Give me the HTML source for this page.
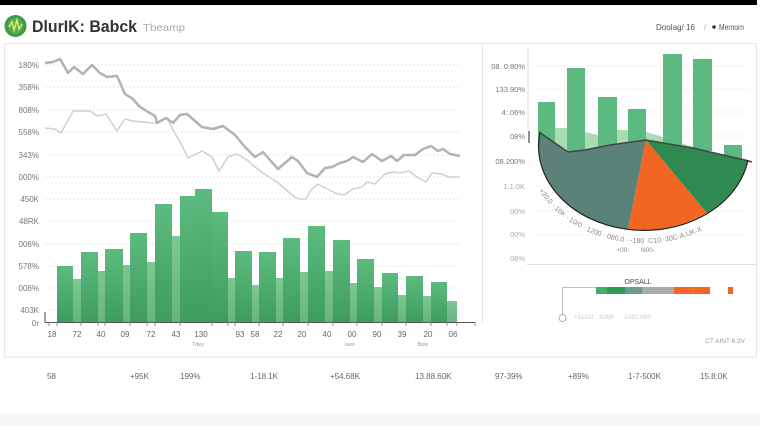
<!DOCTYPE html>
<html><head><meta charset="utf-8">
<style>
html,body{margin:0;padding:0;background:#fff;}
body{width:760px;height:426px;overflow:hidden;font-family:"Liberation Sans",sans-serif;}
svg{display:block;}
</style></head>
<body>
<svg width="760" height="426" viewBox="0 0 760 426" xmlns="http://www.w3.org/2000/svg" font-family="Liberation Sans, sans-serif">
<defs>
<linearGradient id="gd" x1="0" y1="0" x2="0" y2="1"><stop offset="0" stop-color="#5dbb80"/><stop offset="1" stop-color="#3e9c5d"/></linearGradient>
<linearGradient id="gl" x1="0" y1="0" x2="0" y2="1"><stop offset="0" stop-color="#7ec795"/><stop offset="1" stop-color="#66b57f"/></linearGradient>
<path id="arcTxt" d="M 537 187 A 118 97 0 0 0 751 187" fill="none"/>
</defs>
<rect x="0" y="0" width="760" height="426" fill="#fff"/>
<rect x="0" y="0" width="757" height="5" fill="#000"/>
<rect x="0" y="414" width="760" height="12" fill="#f6f6f6"/>

<!-- logo -->
<circle cx="15.5" cy="26" r="11" fill="#3b9a47"/>
<circle cx="15.5" cy="26" r="8" fill="#52ad4e"/>
<path d="M9 27 L12 22 L14 30 L17 20 L19 29 L22 24" fill="none" stroke="#d8e86a" stroke-width="1.6"/>
<text x="32" y="32" font-size="17" font-weight="bold" fill="#333" textLength="105" lengthAdjust="spacingAndGlyphs">DlurIK: Babck</text>
<text x="143" y="31" font-size="10.5" fill="#aaa" textLength="42" lengthAdjust="spacingAndGlyphs">Tbeamp</text>
<text x="656" y="30" font-size="8.5" fill="#555" textLength="39" lengthAdjust="spacingAndGlyphs">Doolag/ 16</text>
<text x="704" y="30" font-size="8.5" fill="#aaa">/</text>
<circle cx="714" cy="27" r="1.8" fill="#333"/>
<text x="719" y="30" font-size="8.5" fill="#555" textLength="25" lengthAdjust="spacingAndGlyphs">Mernorn</text>

<!-- main panel -->
<rect x="4.5" y="43.5" width="752" height="313.5" fill="none" stroke="#e6e6e6"/>
<line x1="482.5" y1="45" x2="482.5" y2="323" stroke="#e3e3e3"/>

<!-- left gridlines -->
<g stroke="#e6e6e6" stroke-dasharray="2,2">
<line x1="45" y1="65" x2="460" y2="65"/><line x1="45" y1="87" x2="460" y2="87"/>
<line x1="45" y1="110" x2="460" y2="110"/><line x1="45" y1="132" x2="460" y2="132"/>
<line x1="45" y1="155" x2="460" y2="155"/><line x1="45" y1="177" x2="460" y2="177"/>
<line x1="45" y1="199" x2="460" y2="199"/><line x1="45" y1="221" x2="460" y2="221"/>
<line x1="45" y1="244" x2="460" y2="244"/><line x1="45" y1="266" x2="460" y2="266"/>
<line x1="45" y1="288" x2="460" y2="288"/><line x1="45" y1="310" x2="460" y2="310"/>
</g>
<g font-size="8" fill="#777" text-anchor="end">
<text x="39" y="68">180%</text><text x="39" y="90">358%</text><text x="39" y="113">808%</text>
<text x="39" y="135">558%</text><text x="39" y="158">343%</text><text x="39" y="180">000%</text>
<text x="39" y="202">450K</text><text x="39" y="224">48RK</text><text x="39" y="247">006%</text>
<text x="39" y="269">578%</text><text x="39" y="291">006%</text><text x="39" y="313">403K</text>
<text x="39" y="326">0r</text>
</g>

<!-- left bars light -->
<g fill="url(#gl)">
<rect x="73" y="279" width="8" height="43"/><rect x="98" y="271" width="7" height="51"/>
<rect x="123" y="265" width="7" height="57"/><rect x="147" y="262" width="8" height="60"/>
<rect x="172" y="236" width="8" height="86"/><rect x="228" y="278" width="7" height="44"/>
<rect x="252" y="285" width="7" height="37"/><rect x="276" y="278" width="7" height="44"/>
<rect x="300" y="272" width="8" height="50"/><rect x="325" y="271" width="8" height="51"/>
<rect x="350" y="283" width="7" height="39"/><rect x="374" y="287" width="8" height="35"/>
<rect x="398" y="295" width="8" height="27"/><rect x="423" y="296" width="8" height="26"/>
<rect x="447" y="301" width="10" height="21"/>
</g>
<g fill="url(#gd)">
<rect x="57" y="266" width="16" height="56"/><rect x="81" y="252" width="17" height="70"/>
<rect x="105" y="249" width="18" height="73"/><rect x="130" y="233" width="17" height="89"/>
<rect x="155" y="204" width="17" height="118"/><rect x="180" y="196" width="15" height="126"/>
<rect x="195" y="189" width="17" height="133"/><rect x="212" y="212" width="16" height="110"/>
<rect x="235" y="251" width="17" height="71"/><rect x="259" y="252" width="17" height="70"/>
<rect x="283" y="238" width="17" height="84"/><rect x="308" y="226" width="17" height="96"/>
<rect x="333" y="240" width="17" height="82"/><rect x="357" y="259" width="17" height="63"/>
<rect x="382" y="273" width="16" height="49"/><rect x="406" y="276" width="17" height="46"/>
<rect x="431" y="282" width="16" height="40"/>
</g>

<!-- lines -->
<polyline fill="none" stroke="#d0d0d0" stroke-width="1.5" stroke-linejoin="round" points="45,128 55,129 61,133 73,111 82,111 90,111 97,116 106,114 117,131 125,119 133,121 143,122 153,123 158,123 167,118 173,130 180,142 188,158 202,151 212,157 219,171 228,157 237,154 247,160 255,167 263,173 277,182 292,195 298,199 306,199 311,190 318,184 327,189 335,193 344,195 353,189 362,187 367,182 375,184 385,174 393,172 400,173 409,171 417,177 426,182 432,173 442,174 449,177 460,177"/>
<polyline fill="none" stroke="#b3b3b3" stroke-width="2.5" stroke-linejoin="round" points="45,63 53,62 60,59 68,73 74,67 83,74 92,65 100,73 107,77 117,76 125,94 133,99 139,106 148,112 155,116 157,123 166,118 173,123 180,115 187,114 202,127 213,129 223,126 235,135 245,147 255,157 263,152 270,160 278,169 292,157 298,161 307,173 317,177 325,168 332,167 340,163 347,161 353,157 363,162 372,154 382,161 391,156 397,161 404,155 415,155 423,149 431,146 438,151 443,149 450,154 460,156"/>

<!-- left axis -->
<line x1="45" y1="312" x2="45" y2="322.5" stroke="#444" stroke-width="1"/>
<line x1="45" y1="322.5" x2="475" y2="322.5" stroke="#555" stroke-width="1"/>
<g stroke="#777" stroke-width="0.8">
<line x1="49" y1="322" x2="49" y2="326"/><line x1="57" y1="322" x2="57" y2="326"/><line x1="81" y1="322" x2="81" y2="326"/>
<line x1="98" y1="322" x2="98" y2="326"/><line x1="105" y1="322" x2="105" y2="326"/><line x1="130" y1="322" x2="130" y2="326"/>
<line x1="147" y1="322" x2="147" y2="326"/><line x1="155" y1="322" x2="155" y2="326"/><line x1="180" y1="322" x2="180" y2="326"/>
<line x1="212" y1="322" x2="212" y2="326"/><line x1="228" y1="322" x2="228" y2="326"/><line x1="235" y1="322" x2="235" y2="326"/>
<line x1="259" y1="322" x2="259" y2="326"/><line x1="283" y1="322" x2="283" y2="326"/><line x1="308" y1="322" x2="308" y2="326"/>
<line x1="333" y1="322" x2="333" y2="326"/><line x1="357" y1="322" x2="357" y2="326"/><line x1="382" y1="322" x2="382" y2="326"/>
<line x1="406" y1="322" x2="406" y2="326"/><line x1="431" y1="322" x2="431" y2="326"/><line x1="447" y1="322" x2="447" y2="326"/>
<line x1="457" y1="322" x2="457" y2="326"/><line x1="475" y1="322" x2="475" y2="326"/>
</g>
<g font-size="8" fill="#666" text-anchor="middle">
<text x="52" y="337">18</text><text x="77" y="337">72</text><text x="101" y="337">40</text>
<text x="125" y="337">09</text><text x="151" y="337">72</text><text x="176" y="337">43</text>
<text x="201" y="337">130</text><text x="240" y="337">93</text><text x="255" y="337">58</text>
<text x="278" y="337">22</text><text x="302" y="337">20</text><text x="327" y="337">40</text>
<text x="352" y="337">00</text><text x="377" y="337">90</text><text x="402" y="337">39</text>
<text x="428" y="337">20</text><text x="453" y="337">06</text>
</g>
<g font-size="5.5" fill="#999" text-anchor="middle">
<text x="198" y="346">Tdey</text><text x="350" y="346">lass</text><text x="423" y="346">Bole</text>
</g>

<!-- right chart -->
<g stroke="#e8e8e8" stroke-dasharray="2,2">
<line x1="535" y1="66" x2="748" y2="66"/><line x1="535" y1="89" x2="748" y2="89"/>
<line x1="535" y1="112" x2="748" y2="112"/><line x1="535" y1="136" x2="748" y2="136"/>
<line x1="535" y1="161" x2="748" y2="161"/><line x1="535" y1="186" x2="748" y2="186"/>
<line x1="535" y1="211" x2="748" y2="211"/><line x1="535" y1="235" x2="748" y2="235"/>
</g>
<line x1="527" y1="264.5" x2="757" y2="264.5" stroke="#ddd"/>
<line x1="528" y1="47" x2="528" y2="131" stroke="#ddd"/>
<line x1="529" y1="131" x2="529" y2="143" stroke="#444" stroke-width="1.2"/>
<g font-size="7.5" fill="#777" text-anchor="end">
<text x="525" y="69">08. 0:80%</text><text x="525" y="92">133.90%</text><text x="525" y="115">4:.06%</text>
<text x="525" y="139">08%</text><text x="525" y="164">08.200%</text>
</g>
<g font-size="7.5" fill="#aaa" text-anchor="end">
<text x="525" y="189">1.1.0K</text><text x="525" y="214">00%</text>
<text x="525" y="237">00%</text><text x="525" y="261">08%</text>
</g>

<polygon fill="#a9dcb3" points="538,131 555,128 567,128 585,132 598,135 617,130 628,130 646,132 663,137 693,147 723,157 723,155 693,148 663,143 646,140 610,145 585,150 568,152 539,132"/>
<g fill="#5cb97f">
<rect x="538" y="102" width="17" height="40"/><rect x="567" y="68" width="18" height="86"/>
<rect x="598" y="97" width="19" height="50"/><rect x="628" y="109" width="18" height="33"/>
<rect x="663" y="54" width="19" height="92"/><rect x="693" y="59" width="19" height="92"/>
<rect x="724" y="145" width="18" height="14"/>
</g>

<!-- pie bowl -->
<path d="M540 132 L568 152 L585 150 L610 145 L646 140 L628 229 A 105 84 0 0 1 540 132 Z" fill="#5a8279"/>
<path d="M646 140 L707 213 A 105 84 0 0 1 628 229 Z" fill="#f26522"/>
<path d="M646 140 L663 143 L693 148 L723 155 L748 160 A 105 84 0 0 1 707 213 Z" fill="#2e8a50"/>
<polyline fill="none" stroke="#444" stroke-width="1.5" points="539,132 568,152 585,150 610,145 646,140 663,143 693,148 723,155 745,160 752,162"/>
<path d="M540 132 A 105 84 0 0 0 748 160" fill="none" stroke="#222" stroke-width="1.2"/>

<text font-size="7" fill="#888"><textPath href="#arcTxt" startOffset="4">+20.0 · 10K · 10/0 · 1200 · 080.0 · -180 ·C10 ·30C·A.UK·X</textPath></text>
<text x="623" y="252" font-size="6.5" fill="#888" text-anchor="middle">+00-</text>
<text x="648" y="252" font-size="6.5" fill="#888" text-anchor="middle">N00-</text>

<!-- legend -->
<text x="638" y="284" font-size="7" fill="#444" text-anchor="middle">OPSALL</text>
<rect x="596" y="287" width="11" height="7" fill="#46ad69"/>
<rect x="607" y="287" width="18" height="7" fill="#2f9a56"/>
<rect x="625" y="287" width="17" height="7" fill="#6d9a8e"/>
<rect x="642" y="287" width="32" height="7" fill="#a9abab"/>
<rect x="674" y="287" width="36" height="7" fill="#f26522"/>
<line x1="693" y1="287" x2="693" y2="294" stroke="#f58a55" stroke-width="0.6"/>
<rect x="728" y="287" width="5" height="7" fill="#f26522"/>
<polyline fill="none" stroke="#aaa" stroke-width="0.8" points="596,287.5 562.5,287.5 562.5,314.5"/>
<circle cx="562.5" cy="318" r="3.5" fill="#fff" stroke="#999" stroke-width="0.8"/>
<text x="574" y="319" font-size="6.5" fill="#ccc">+1182I : 3268</text>
<text x="624" y="319" font-size="6.5" fill="#ccc">1082:089</text>
<line x1="470" y1="322.5" x2="475" y2="322.5" stroke="#555"/>
<text x="745" y="343" font-size="6.5" fill="#999" text-anchor="end">CT AINT 6.3V</text>

<!-- bottom row -->
<g font-size="8" fill="#666">
<text x="47" y="379">58</text><text x="130" y="379">+95K</text><text x="180" y="379">199%</text>
<text x="250" y="379">1-18.1K</text><text x="330" y="379">+54.68K</text><text x="415" y="379">13.88.60K</text>
<text x="495" y="379">97-39%</text><text x="568" y="379">+89%</text><text x="628" y="379">1-7-500K</text>
<text x="700" y="379">15.8:0K</text>
</g>
</svg>
</body></html>
